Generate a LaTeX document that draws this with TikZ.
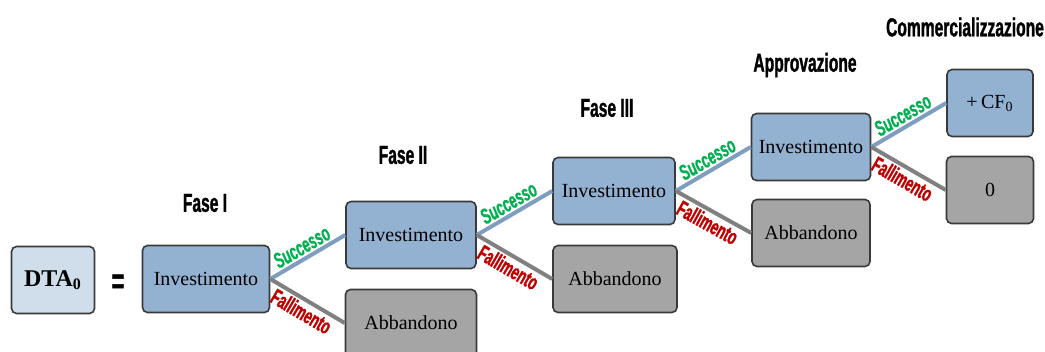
\documentclass[tikz,border=0pt]{standalone}
\usepackage{fontspec}
\setmainfont{Liberation Serif}
\newfontfamily\narrowfont[FakeStretch=0.6,FakeBold=1.2]{Liberation Sans}
\definecolor{dtafill}{HTML}{D0DDEB}
\definecolor{invfill}{HTML}{93B1D1}
\definecolor{abbfill}{HTML}{A5A5A5}
\definecolor{boxline}{HTML}{3A3A3A}
\definecolor{okline}{HTML}{7F9DBE}
\definecolor{koline}{HTML}{808080}
\definecolor{okgreen}{HTML}{00B050}
\definecolor{kored}{HTML}{C00000}
\begin{document}
\begin{tikzpicture}[x=0.5pt,y=-0.5pt,
  box/.style={draw=boxline, line width=0.8pt, rounded corners=2.5pt, minimum height=33.5pt, inner sep=0pt, font=\fontsize{10}{12}\selectfont},
  inv/.style={box, fill=invfill},
  abb/.style={box, fill=abbfill},
  phase/.style={font=\narrowfont\bfseries\fontsize{13}{14}\selectfont},
  okpath/.style={line width=2pt, draw=okline},
  kopath/.style={line width=2pt, draw=koline},
  oklab/.style={font=\narrowfont\bfseries\itshape\fontsize{11}{12}\selectfont, text=okgreen, sloped, above, inner sep=1pt},
  kolab/.style={font=\narrowfont\bfseries\fontsize{11}{12}\selectfont, text=kored, sloped, below, inner sep=1pt}]
\useasboundingbox (0,0) rectangle (1045,352);

% left side
\node[box, fill=dtafill, minimum width=41.5pt, font=\bfseries\fontsize{12}{14}\selectfont] (dta) at (53,280) {DTA\textsubscript{0}};
\node[phase, font=\narrowfont\bfseries\fontsize{18}{18}\selectfont] (eq) at (118,284) {=};

% stages
\node[inv, minimum width=63.5pt] (i1) at (206,279) {Investimento};
\node[phase] (f1) at (205,203) {Fase I};

\node[inv, minimum width=65pt] (i2) at (411,235) {Investimento};
\node[abb, minimum width=65.5pt] (a1) at (411,323) {Abbandono};
\node[phase] (f2) at (403,155) {Fase II};

\node[inv, minimum width=61pt] (i3) at (614,191) {Investimento};
\node[abb, minimum width=62pt] (a2) at (615,279) {Abbandono};
\node[phase] (f3) at (607,108) {Fase III};

\node[inv, minimum width=59.5pt] (i4) at (811,147) {Investimento};
\node[abb, minimum width=59pt] (a3) at (811,233) {Abbandono};
\node[phase] (f4) at (805,65) {Approvazione};

\node[inv, minimum width=43pt] (cf) at (990,103) {+\,CF\textsubscript{0}};
\node[abb, minimum width=43.5pt] (zero) at (990,190) {0};
\node[phase] (f5) at (965,27) {Commercializzazione};

% branches
\draw[okpath] (i1.east) -- node[oklab] {Successo} (i2.west);
\draw[kopath] (i1.east) -- node[kolab] {Fallimento} (a1.west);
\draw[okpath] (i2.east) -- node[oklab] {Successo} (i3.west);
\draw[kopath] (i2.east) -- node[kolab] {Fallimento} (a2.west);
\draw[okpath] (i3.east) -- node[oklab] {Successo} (i4.west);
\draw[kopath] (i3.east) -- node[kolab] {Fallimento} (a3.west);
\draw[okpath] (i4.east) -- node[oklab] {Successo} (cf.west);
\draw[kopath] (i4.east) -- node[kolab] {Fallimento} (zero.west);
\end{tikzpicture}
\end{document}
